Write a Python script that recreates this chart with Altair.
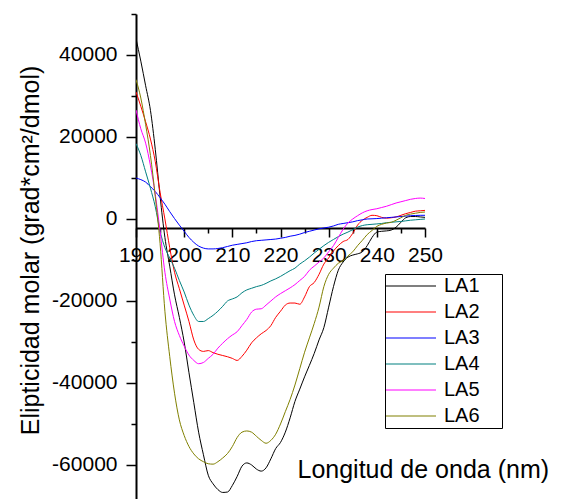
import altair as alt
import pandas as pd

wavelength = list(range(190, 251))

la1 = [44000, 38500, 32500, 26500, 17000, 5500, -4500, -11500, -18500, -24000,
       -30000, -37500, -44800, -52000, -57500, -62500, -64600, -66000, -66700, -66600,
       -65000, -62800, -60300, -59500, -60000, -61000, -61500, -60700, -58500, -56000,
       -54500, -52000, -48500, -44500, -41500, -38500, -35700, -32800, -29500, -26500,
       -21500, -16500, -12500, -10500, -9300, -8800, -8500, -8000, -6500, -4500,
       -3200, -3000, -2900, -2700, -2000, -800, 300, 600, 600, 500,
       400]

la2 = [31000, 27500, 23700, 19500, 14000, 6500, 0, -7000, -13000, -17000,
       -21000, -25000, -29500, -31800, -32300, -32100, -32600, -33000, -33300, -33600,
       -34000, -34500, -33500, -32000, -30200, -29000, -28000, -27200, -26000, -24000,
       -22500, -21000, -20500, -20500, -20800, -19000, -16500, -15500, -13500, -11000,
       -9500, -7800, -6500, -5500, -5000, -3500, -1500, -300, 400, 900,
       800, 400, 200, 300, 500, 900, 1300, 1600, 1900, 2000,
       2100]

la3 = [10000, 9600, 9000, 7900, 6700, 5200, 3600, 1800, 100, -1500,
       -3000, -4500, -5700, -6600, -7100, -7300, -7300, -7200, -7000, -6700,
       -6400, -6200, -6000, -5800, -5500, -5300, -5200, -5100, -5000, -4900,
       -4700, -4500, -4200, -4000, -3700, -3300, -3000, -2700, -2400, -2200,
       -2000, -1700, -1300, -1100, -900, -700, -400, -200, 0, 50,
       100, 200, 300, 400, 500, 600, 700, 800, 850, 900,
       900]

la4 = [18400, 15500, 11500, 7500, 3000, -3000, -7000, -9500, -12000, -15000,
       -17800, -21000, -23500, -25000, -25000, -24300, -23500, -22500, -21300, -20000,
       -19500, -19000, -18000, -17300, -16900, -16500, -16200, -15700, -15100, -14600,
       -14000, -13300, -12600, -12000, -11000, -10200, -9300, -8300, -7400, -6500,
       -5700, -5000, -4300, -3700, -3200, -2600, -2000, -1600, -1400, -1300,
       -1200, -1100, -900, -800, -700, -600, -450, -300, -200, -100,
       0]

la5 = [26600, 22000, 18500, 13000, 6000, -3000, -13000, -19500, -25000, -28400,
       -31000, -33200, -34500, -35300, -35000, -34000, -33000, -31500, -30300, -29200,
       -28300, -27500, -26000, -24500, -22700, -22000, -21900, -21000, -20000, -19000,
       -18200, -17500, -16800, -16000, -15000, -14000, -12500, -11500, -10500, -9500,
       -8000, -6500, -4500, -2500, -1000, 0, 800, 1500, 2000, 2300,
       2500, 2800, 3100, 3500, 3900, 4200, 4500, 4800, 5000, 5100,
       5000]

la6 = [34000, 29500, 23000, 15500, 5500, -6000, -22500, -33500, -42500, -49000,
       -52800, -55500, -57300, -58500, -59200, -59700, -59800, -59200, -58300, -57200,
       -55500, -53300, -52000, -51700, -52000, -53000, -54000, -54700, -54000, -52500,
       -50000, -47000, -44000, -40500, -36500, -32500, -29000, -25500, -21500, -16500,
       -13500, -12000, -10800, -10200, -9000, -8000, -6500, -5200, -3800, -2800,
       -1800, -1300, -1000, -800, -300, 300, 900, 1200, 1400, 1600,
       1700]

series_names = ["LA1", "LA2", "LA3", "LA4", "LA5", "LA6"]
series_colors = ["#000000", "#FF0000", "#0000FF", "#008080", "#FF00FF", "#808000"]

x_ticks = list(range(190, 251, 5))
y_ticks = list(range(-60000, 50001, 10000))

rows = []
for name, vals in zip(series_names, [la1, la2, la3, la4, la5, la6]):
    for w, v in zip(wavelength, vals):
        rows.append({"wl": w, "val": v, "series": name})
df = pd.DataFrame(rows)

FONT = "Liberation Sans"

chart = alt.Chart(df).mark_line(strokeWidth=1, interpolate="monotone", clip=True).encode(
    x=alt.X(
        "wl:Q",
        scale=alt.Scale(domain=[190, 250], nice=False, zero=False),
        axis=alt.Axis(
            values=x_ticks,
            labelExpr="datum.value % 10 === 0 ? '' + datum.value : ''",
            tickSize={"condition": {"test": "datum.value % 10 === 0", "value": 9}, "value": 5},
            offset=-271,
            labelPadding=7,
            labelFontSize=21,
            labelFlush=False,
            labelOverlap=False,
            title="Longitud de onda (nm)",
            titleFontSize=25,
            titleX=161,
            titleY=249,
            titleAlign="left",
            titleBaseline="alphabetic",
        ),
    ),
    y=alt.Y(
        "val:Q",
        scale=alt.Scale(domain=[-68300, 50000], nice=False, zero=False),
        axis=alt.Axis(
            values=y_ticks,
            labelExpr="datum.value % 20000 === 0 ? (datum.value < 0 ? '-' + abs(datum.value) : '' + datum.value) : ''",
            tickSize={"condition": {"test": "datum.value % 20000 === 0", "value": 10}, "value": 5},
            labelPadding=9,
            labelFontSize=21,
            labelFlush=False,
            labelOverlap=False,
            title="Elipticidad molar (grad*cm²/dmol)",
            titleFontSize=25,
            titleX=-106,
            titleY=236,
            titleAngle=270,
            titleAlign="center",
            titleBaseline="middle",
        ),
    ),
    color=alt.Color(
        "series:N",
        scale=alt.Scale(domain=series_names, range=series_colors),
        legend=alt.Legend(
            orient="none",
            legendX=249,
            legendY=260,
            title="MM",
            titleOrient="right",
            titleOpacity=0,
            titleFontSize=10,
            titlePadding=3,
            symbolType="M-2.2,0H7.8",
            symbolSize=100,
            symbolStrokeWidth=1.2,
            labelOffset=37,
            labelFontSize=20,
            labelFont=FONT,
            labelColor="black",
            strokeColor="black",
            padding=2,
            rowPadding=6,
        ),
    ),
).properties(
    width=289,
    height=485,
    autosize=alt.AutoSizeParams(type="none"),
    padding={"left": 136, "top": 14, "right": 138, "bottom": 0},
).configure(
    font=FONT,
).configure_axis(
    grid=False,
    domainColor="black",
    domainWidth=2,
    tickColor="black",
    tickWidth=1.5,
    labelColor="black",
    titleColor="black",
    titleFontWeight="normal",
    labelFont=FONT,
    titleFont=FONT,
).configure_legend(
    strokeWidth=1,
).configure_view(
    strokeWidth=0,
)

chart.save("out.html", embed_options={"renderer": "svg", "actions": False})
